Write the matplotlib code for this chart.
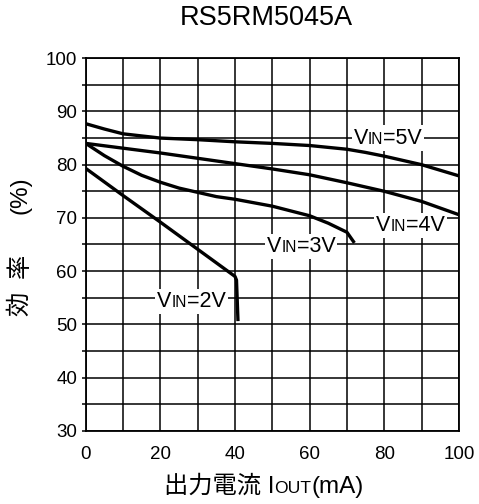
import numpy as np
import matplotlib
matplotlib.use("Agg")
import matplotlib.pyplot as plt
from matplotlib.offsetbox import TextArea, HPacker, AnnotationBbox

plt.rcParams['font.family'] = ['Liberation Sans', 'Noto Sans CJK JP']

# 効率データ (出力電流 mA, 効率 %)
x_5v = [0, 5, 10, 20, 30, 40, 50, 60, 70, 75, 80, 90, 100]
y_5v = [87.7, 86.7, 85.8, 85.0, 84.7, 84.3, 84.0, 83.6, 82.9, 82.3, 81.6, 80.0, 77.9]

x_4v = [0, 10, 20, 30, 40, 50, 60, 70, 80, 90, 100]
y_4v = [84.0, 83.1, 82.2, 81.2, 80.2, 79.2, 78.1, 76.6, 75.0, 73.1, 70.6]

x_3v = [0, 5, 10, 15, 20, 25, 30, 35, 40, 50, 60, 65, 70, 72]
y_3v = [84.0, 81.7, 79.7, 78.0, 76.7, 75.6, 74.8, 74.0, 73.5, 72.2, 70.4, 69.0, 67.3, 65.3]

x_2v = [0, 10, 20, 30, 40, 40.4, 40.8]
y_2v = [79.3, 74.2, 69.2, 64.1, 59.0, 58.3, 50.6]

labels = ['5V', '4V', '3V', '2V']
label_x = [81.0, 87.0, 57.7, 28.4]
label_y = [85.0, 68.6, 64.6, 54.3]

fig = plt.figure(figsize=(4.79, 5.04), dpi=100)
ax = fig.add_axes([0.179, 0.1454, 0.779, 0.739])

for xs, ys in [(x_5v, y_5v), (x_4v, y_4v), (x_3v, y_3v), (x_2v, y_2v)]:
    ax.plot(xs, ys, color='black', lw=2.4, solid_capstyle='butt', zorder=3)

ax.set_xlim(0, 100)
ax.set_ylim(30, 100)
ax.set_xticks(np.arange(0, 101, 20))
ax.set_xticks(np.arange(0, 101, 10), minor=True)
ax.set_yticks(np.arange(30, 101, 10))
ax.set_yticks(np.arange(30, 101, 5), minor=True)
ax.grid(True, which='both', color='black', lw=1.1)
ax.tick_params(axis='x', which='both', length=0, pad=11, labelsize=13.5)
ax.tick_params(axis='y', which='both', direction='out', length=3, width=1.1, labelsize=13.5, pad=3)
for s in ax.spines.values():
    s.set_linewidth(1.3)

def vin_label(txt, fs=15.5):
    parts = [TextArea('V', textprops=dict(fontsize=fs)),
             TextArea('IN', textprops=dict(fontsize=fs * 0.72)),
             TextArea('=' + txt, textprops=dict(fontsize=fs))]
    return HPacker(children=parts, align='baseline', pad=0, sep=0)

for t, lx, ly in zip(labels, label_x, label_y):
    ab = AnnotationBbox(vin_label(t), (lx, ly), xycoords='data', frameon=True,
                        pad=0.15, bboxprops=dict(facecolor='white', edgecolor='none'),
                        zorder=2)
    ax.add_artist(ab)

# x label
fs_lab = 17.5
xl = HPacker(children=[TextArea('出力電流 I', textprops=dict(fontsize=fs_lab)),
                       TextArea('OUT', textprops=dict(fontsize=fs_lab * 0.72)),
                       TextArea('(mA)', textprops=dict(fontsize=fs_lab))],
             align='baseline', pad=0, sep=0)
ab = AnnotationBbox(xl, (0.551, 0.034), xycoords='figure fraction', frameon=False, pad=0,
                    annotation_clip=False)
fig.add_artist(ab)

# y label
fig.text(0.042, 0.397, '効', rotation=90, ha='center', va='center', fontsize=fs_lab)
fig.text(0.042, 0.472, '率', rotation=90, ha='center', va='center', fontsize=fs_lab)
fig.text(0.042, 0.613, '(%)', rotation=90, ha='center', va='center', fontsize=fs_lab)

fig.text(0.555, 0.964, 'RS5RM5045A', ha='center', va='center', fontsize=19.5)

fig.savefig('out.png', dpi=100)
